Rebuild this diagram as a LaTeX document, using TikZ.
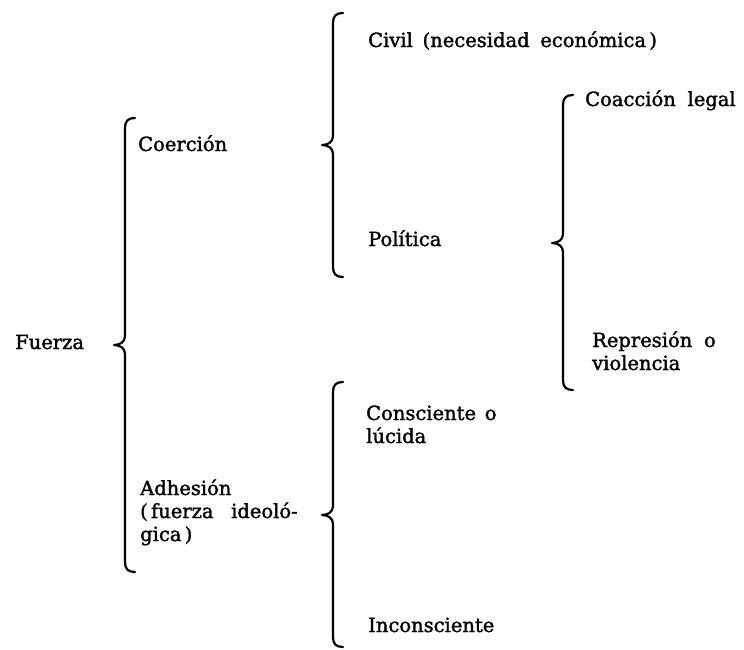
\documentclass[tikz,border=0pt]{standalone}
\usepackage{fontspec}
\setmainfont{DejaVu Serif}[FakeBold=1.6]
\newcommand\mybrace[4]{% x, top, cusp, bottom
  \draw[bracestyle] (#1+10,#2) .. controls (#1+3,#2) and (#1,#2+3) .. (#1,#2+10)
    -- (#1,#3-9) .. controls (#1,#3-3) and (#1-5,#3) .. (#1-11,#3)
    .. controls (#1-5,#3) and (#1,#3+3) .. (#1,#3+9)
    -- (#1,#4-10) .. controls (#1,#4-3) and (#1+3,#4) .. (#1+10,#4);}
\begin{document}
\begin{tikzpicture}[x=1pt,y=-1pt,
  bracestyle/.style={line width=2.2pt,line cap=round,line join=round},
  lbl/.style={inner sep=0pt,anchor=base west,font=\fontsize{19.5}{23}\selectfont}]
\useasboundingbox[fill=white] (0,0) rectangle (744,649);
% braces
\mybrace{125}{118}{345}{572}
\mybrace{333}{13}{145}{277}
\mybrace{563}{95}{243}{390}
\mybrace{333}{382}{515}{647}
% labels
\node[lbl] (fuerza) at (15,349) {Fuerza};
\node[lbl] (coercion) at (138,151) {Coerción};
\node[lbl] (adhesion) at (140,495) {\vtop{\hbox{Adhesión}\hbox{(\,fuerza\hspace{0.9em}ideoló-}\hbox{gica\,)}}};
\node[lbl] (civil) at (368,47) {Civil\hspace{0.5em}(necesidad\hspace{0.55em}económica\,)};
\node[lbl] (politica) at (368,246) {Política};
\node[lbl] (coaccion) at (585,106) {Coacción\hspace{0.6em}legal};
\node[lbl] (represion) at (592,347) {\vtop{\hbox{Represión\hspace{0.6em}o}\hbox{violencia}}};
\node[lbl] (consciente) at (366,420) {\vtop{\hbox{Consciente\hspace{0.45em}o}\hbox{lúcida}}};
\node[lbl] (inconsciente) at (368,632) {Inconsciente};
\end{tikzpicture}
\end{document}
